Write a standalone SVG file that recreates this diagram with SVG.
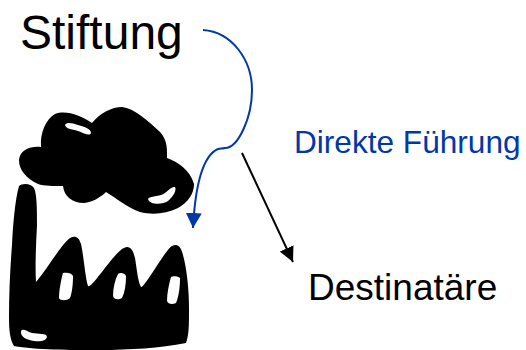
<svg xmlns="http://www.w3.org/2000/svg" width="526" height="350" viewBox="0 0 526 350">
<style>
text{font-family:"Liberation Sans",Arial,sans-serif}
.ink{fill:#000}
.hole{fill:#fff}
.c{fill:none;stroke-width:2}
</style>
<defs>
<marker id="ab" markerUnits="userSpaceOnUse" markerWidth="16" markerHeight="16" refX="15" refY="8" orient="auto" viewBox="0 0 16 16"><path d="M0 0L15 8L0 16Z" fill="#0038a8"/></marker>
<marker id="ak" markerUnits="userSpaceOnUse" markerWidth="15" markerHeight="15" refX="15" refY="7.5" orient="auto" viewBox="0 0 15 15"><path d="M0 0L15 7.5L0 15Z" fill="#000"/></marker>
</defs>
<rect width="526" height="350" fill="#fff"/>
<g id="stiftung"><text x="20" y="49" font-size="48">Stiftung</text></g>
<g id="destinataere"><text x="308" y="300" font-size="37">Destinatäre</text></g>
<g id="fuehrung-label"><text x="294" y="153" font-size="31.6" fill="#0038a8">Direkte Führung</text></g>
<g id="factory">
<path class="ink" d="M41 146C40 133 46 119 55 114C66 110 80 115 92 123C100 113 112 107 122 107C134 108 148 121 160 132C168 141 167 150 167 158C178 162 190 170 194 184C194 194 188 202 178 208C166 214 152 215 140 212C128 208 116 198 106 192C100 198 92 202 84 203C72 203 64 196 63 186C54 186 44 186 38 184C26 178 19 170 19 160C20 150 30 146 41 147Z"/>
<path class="hole" d="M65 125C67 122 72 123 78 125C85 127 91 129 91 133C90 136 85 134 78 131C71 129 66 129 65 125Z"/>
<path class="hole" d="M148 199C150 196 155 197 161 195C167 193 171 186 175 187C177 190 173 197 168 201C162 205 150 205 148 199Z"/>
<path class="ink" d="M19 186C22 183 31 183 34 188C37 194 37 210 37 225C36 245 35 265 36 282C48 268 60 246 70 238C75 235 79 237 81 244C84 258 85 276 88 286C92 289 114 252 124 248C130 245 133 250 135 258C137 270 138 282 141 287C144 289 165 250 172 246C178 243 181 247 183 255C187 270 189 290 189 310C189 325 189 335 186 343C160 348 130 350 100 350C70 350 35 350 14 346C10 340 9 330 9 317C9 295 10 270 12 245C13 225 15 200 19 186Z"/>
<path class="hole" d="M63 273C67 272 72 273 73 276C73 284 72 293 70 298C67 301 60 301 59 298C59 290 61 280 63 273Z"/>
<path class="hole" d="M118 274C120 272 125 273 126 276C126 284 125 292 122 298C119 300 114 300 113 296C113 288 115 280 118 274Z"/>
<path class="hole" d="M171 277C173 276 178 276 180 278C180 286 179 296 176 303C172 305 168 304 167 301C167 293 169 284 171 277Z"/>
<path class="hole" d="M21 331C23 328 26 331 32 333C38 334 47 333 47 337C46 341 40 342 34 341C27 340 20 337 21 331Z"/>
</g>
<g id="connectors">
<path class="c" stroke="#0038a8" marker-end="url(#ab)" d="M203 30C232 32 252 60 252 90C252 118 238 148 225 148C222 149 220 148 218 149C202 156 195 190 193 228"/>
<path class="c" stroke="#000" marker-end="url(#ak)" d="M242 153L293 262"/>
</g>
</svg>
